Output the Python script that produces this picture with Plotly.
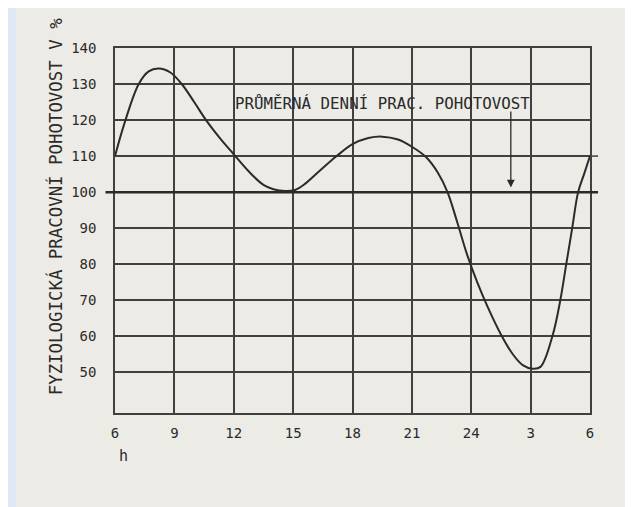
import plotly.graph_objects as go

# ---- data ----
hours = [6, 6.5, 7.2, 7.7, 8.2, 8.8, 9.4, 10.0, 10.6, 11.3, 12.0, 12.8, 13.5, 14.0, 14.6,
         15.1, 15.6, 16.4, 17.2, 18.0, 18.8, 19.5, 20.3, 21.0, 21.7, 22.3, 22.8, 23.3,
         23.8, 24.3, 24.8, 25.5, 26.1, 26.6, 27.1, 27.5, 28.1, 28.5, 28.8, 29.1, 29.4, 29.7, 30]
readiness = [110, 119.5, 130, 133.5, 134.3, 133.2, 129.8, 125, 120, 115, 110.5, 105.5, 102, 100.8, 100.3,
             100.6, 102.3, 106.2, 110, 113.3, 115, 115.4, 114.6, 112.6, 109.8, 105.5, 100, 91.5,
             82.5, 75, 68.5, 60.5, 55, 52, 51, 51.5, 60, 70, 80, 90, 100, 105, 110]

x_tickvals = [6, 9, 12, 15, 18, 21, 24, 27, 30]
x_ticktext = ["6", "9", "12", "15", "18", "21", "24", "3", "6"]
y_tickvals = [50, 60, 70, 80, 90, 100, 110, 120, 130, 140]

AVERAGE = 100
ARROW_HOUR = 26
avg_label = "PRŮMĚRNÁ DENNÍ PRAC. POHOTOVOST"
y_title = "FYZIOLOGICKÁ PRACOVNÍ POHOTOVOST V %"

INK = "#404040"
TXT = "#2a2a2a"
PAPER = "#ecebe6"
BACK = "#dfe9f5"
FONT = "DejaVu Sans Mono"

fig = go.Figure()
fig.add_trace(go.Scatter(x=hours, y=readiness, mode="lines",
                         line=dict(color="#2b2b2b", width=2, shape="spline", smoothing=1.0),
                         hoverinfo="skip", showlegend=False))

# paper sheet
fig.add_shape(type="rect", xref="paper", yref="paper", x0=-0.2084, x1=1.2, y0=-0.3, y1=1.115,
              fillcolor=PAPER, line=dict(width=0), layer="below")
# thick average line, extending past the frame
fig.add_shape(type="line", xref="paper", yref="y", x0=-0.02, x1=1.017, y0=AVERAGE, y1=AVERAGE,
              line=dict(color="#2a2a2a", width=2.5))
fig.add_shape(type="line", xref="paper", yref="y", x0=1.0, x1=1.017, y0=110, y1=110,
              line=dict(color=INK, width=1.5))

fig.add_annotation(x=19.5, y=124.7, text=avg_label, showarrow=False,
                   xanchor="center", yanchor="middle",
                   font=dict(family=FONT, size=15.8, color=TXT))
fig.add_annotation(x=ARROW_HOUR, y=AVERAGE + 1.3, ax=ARROW_HOUR, ay=122.8, axref="x", ayref="y",
                   xref="x", yref="y", text="", showarrow=True, arrowhead=2, arrowsize=1.2,
                   arrowwidth=1.3, arrowcolor=TXT)
fig.add_annotation(xref="paper", yref="paper", x=-0.126, y=0.564, text=y_title, textangle=-90,
                   xanchor="center", yanchor="middle", showarrow=False,
                   font=dict(family=FONT, size=17.4, color=TXT))
fig.add_annotation(xref="paper", yref="paper", x=0.017, y=-0.118, text="h", showarrow=False,
                   xanchor="center", yanchor="middle",
                   font=dict(family=FONT, size=15, color=TXT))

fig.update_xaxes(range=[6, 30], tickvals=x_tickvals, ticktext=x_ticktext,
                 showgrid=True, gridcolor=INK, gridwidth=1.5,
                 showline=True, linecolor=INK, linewidth=1.5, mirror=True,
                 zeroline=False, ticks="", ticklabelstandoff=6,
                 tickfont=dict(family=FONT, size=14, color=TXT))
fig.update_yaxes(range=[38.7, 140], tickvals=y_tickvals,
                 showgrid=True, gridcolor=INK, gridwidth=1.5,
                 showline=True, linecolor=INK, linewidth=1.5, mirror=True,
                 zeroline=False, ticks="", ticklabelstandoff=14,
                 tickfont=dict(family=FONT, size=14, color=TXT))

fig.update_layout(width=625, height=499, margin=dict(l=107, r=43, t=40, b=94),
                  paper_bgcolor=BACK, plot_bgcolor="rgba(0,0,0,0)", showlegend=False)

fig.write_html("out.html")
